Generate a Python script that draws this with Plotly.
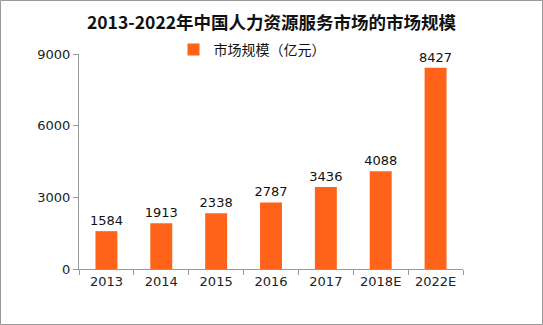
import plotly.graph_objects as go

categories = ["2013", "2014", "2015", "2016", "2017", "2018E", "2022E"]
values = [1584, 1913, 2338, 2787, 3436, 4088, 8427]
series_name = "市场规模（亿元）"
title_text = "2013-2022年中国人力资源服务市场的市场规模"

W, H = 543, 325
ml, mr, mt, mb = 79, 80, 54, 56
pw, ph = W - ml - mr, H - mt - mb

fig = go.Figure()
fig.add_trace(go.Bar(
    x=categories, y=values, name=series_name,
    marker=dict(color="#FF6319", line=dict(width=0)),
    text=[str(v) for v in values], textposition="outside",
    constraintext="none",
    textfont=dict(size=13, color="#111111", family="DejaVu Sans"),
    cliponaxis=False,
))

fig.update_layout(
    width=W, height=H,
    margin=dict(l=ml, r=mr, t=mt, b=mb, pad=0),
    paper_bgcolor="white", plot_bgcolor="white",
    bargap=0.6,
    showlegend=True,
    title=dict(text="<b>" + title_text + "</b>", x=0.5, xanchor="center",
               y=1 - 23 / H, yanchor="middle",
               font=dict(size=17.5, color="#111111", family="Noto Sans CJK SC")),
    legend=dict(orientation="h", x=(252 - ml) / pw, xanchor="center",
                y=(H - mb - 50) / ph, yanchor="middle",
                font=dict(size=14, color="#111111", family="Noto Sans CJK SC"),
                bgcolor="rgba(0,0,0,0)", itemwidth=30, itemsizing="constant"),
    xaxis=dict(showline=True, linecolor="#999999", linewidth=1,
               ticks="outside", ticklen=5, tickcolor="#999999",
               tickson="boundaries", showgrid=False,
               tickfont=dict(size=13, color="#222222", family="DejaVu Sans")),
    yaxis=dict(range=[0, 9000], tickvals=[0, 3000, 6000, 9000],
               showline=True, linecolor="#999999", linewidth=1,
               ticks="outside", ticklen=5, tickcolor="#999999",
               showgrid=False, zeroline=False,
               tickfont=dict(size=13, color="#222222", family="DejaVu Sans")),
)

fig.add_shape(type="rect", xref="paper", yref="paper",
              x0=(0.5 - ml) / pw, x1=(W - 0.5 - ml) / pw,
              y0=-(mb - 0.5) / ph,
              y1=(H - mb - 0.5) / ph,
              line=dict(color="#999999", width=1), layer="above")

fig.write_html("out.html")
